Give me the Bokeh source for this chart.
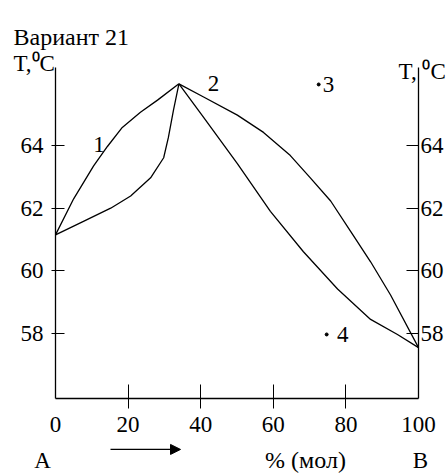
from bokeh.plotting import figure
from bokeh.models import Label, Arrow, NormalHead, LinearAxis, FixedTicker, Range1d
from bokeh.embed import file_html
from bokeh.resources import INLINE

# Liquidus/vapour curves, left part (0 .. azeotrope)
left_upper_x = [0, 5, 10.5, 14.3, 18.4, 23.4, 28.1, 34]
left_upper_y = [61.15, 62.3, 63.35, 63.97, 64.58, 65.06, 65.45, 65.97]
left_lower_x = [0, 7.7, 15.2, 20.7, 26.2, 29.8, 31.1, 32.5, 34]
left_lower_y = [61.15, 61.58, 62.0, 62.39, 62.97, 63.61, 64.26, 65.13, 65.97]
# right part (azeotrope .. 100)
right_upper_x = [34, 40.8, 50.1, 57.3, 64.7, 70.2, 75.8, 81.3, 86.8, 92.3, 100]
right_upper_y = [65.97, 65.55, 64.97, 64.42, 63.68, 62.97, 62.23, 61.26, 60.29, 59.23, 57.55]
right_lower_x = [34, 40.8, 50.1, 59.2, 68.3, 77.7, 86.8, 94.2, 100]
right_lower_y = [65.97, 64.9, 63.42, 61.9, 60.61, 59.42, 58.45, 57.97, 57.55]
# marked points 3 and 4
pts_x = [72.5, 74.7]
pts_y = [65.95, 57.97]
pts_names = ["3", "4"]

x_ticks = [0, 20, 40, 60, 80, 100]
x_inner_ticks = [20, 40, 60, 80]
y_ticks = [58, 60, 62, 64]
x_min, x_max = 0, 100
t_min, t_max = 55.93, 66.5

FONT = "Liberation Serif"
FS = "23px"

# the frame spans the whole canvas; axes are pinned with fixed_location
p = figure(width=446, height=474, output_backend="svg", toolbar_location=None,
           x_range=Range1d(-15.15, 107.71), y_range=Range1d(53.50, 68.63),
           min_border=0, min_border_left=0, min_border_right=0,
           min_border_top=0, min_border_bottom=0,
           x_axis_location=None, y_axis_location=None)
p.outline_line_color = None
p.xgrid.visible = False
p.ygrid.visible = False
p.background_fill_color = "white"
p.border_fill_color = "white"

def style_axis(ax):
    ax.axis_line_color = "black"
    ax.axis_line_width = 1.3
    ax.major_tick_line_color = "black"
    ax.minor_tick_line_color = "black"
    ax.major_tick_line_width = 1
    ax.minor_tick_line_width = 1
    ax.major_label_text_font = FONT
    ax.major_label_text_font_size = FS
    ax.major_label_text_color = "black"

xa = LinearAxis(ticker=FixedTicker(ticks=x_ticks, minor_ticks=x_inner_ticks),
                fixed_location=t_min, bounds=(x_min, x_max))
style_axis(xa)
xa.major_tick_in = 0
xa.major_tick_out = 0
xa.minor_tick_in = 14
xa.minor_tick_out = 10
xa.major_label_standoff = 9
p.add_layout(xa, "below")

ya = LinearAxis(ticker=FixedTicker(ticks=y_ticks), fixed_location=x_min, bounds=(t_min, t_max))
style_axis(ya)
ya.major_tick_in = 9
ya.major_tick_out = 4
ya.major_label_standoff = 8
ya.minor_tick_line_color = None
p.add_layout(ya, "left")

ya2 = LinearAxis(ticker=FixedTicker(ticks=y_ticks), fixed_location=x_max, bounds=(t_min, t_max))
style_axis(ya2)
ya2.major_tick_in = 12
ya2.major_tick_out = 0
ya2.major_label_standoff = 2
ya2.minor_tick_line_color = None
p.add_layout(ya2, "right")

for xs, ys in [(left_upper_x, left_upper_y), (left_lower_x, left_lower_y),
               (right_upper_x, right_upper_y), (right_lower_x, right_lower_y)]:
    p.line(xs, ys, line_color="black", line_width=1.3)

p.scatter(pts_x, pts_y, size=3, color="black")

def lab(x, y, t, align="center", baseline="middle", size=FS):
    p.add_layout(Label(x=x, y=y, text=t, text_font=FONT, text_font_size=size,
                       text_color="black", text_align=align, text_baseline=baseline))

lab(12.0, 64.03, "1")
lab(43.5, 65.99, "2")
lab(pts_x[0] + 2.7, pts_y[0], pts_names[0])
lab(pts_x[1] + 4.4, pts_y[1], pts_names[1])

lab(-11.57, 67.46, "Вариант 21", "left", "alphabetic", "24px")
lab(-11.57, 66.61, "T,⁰C", "left", "alphabetic")
lab(94.5, 66.36, "T, ⁰C", "left", "alphabetic")
lab(-3.58, 53.96, "A", "center", "alphabetic")
lab(68.87, 53.96, "% (мол)", "center", "alphabetic", "24px")
lab(100.55, 53.96, "B", "center", "alphabetic")

p.add_layout(Arrow(end=NormalHead(size=10, fill_color="black", line_color="black"),
                   x_start=15.15, y_start=54.3, x_end=34.44, y_end=54.3,
                   line_color="black", line_width=1.3))

open("out.html", "w").write(file_html(p, INLINE))
